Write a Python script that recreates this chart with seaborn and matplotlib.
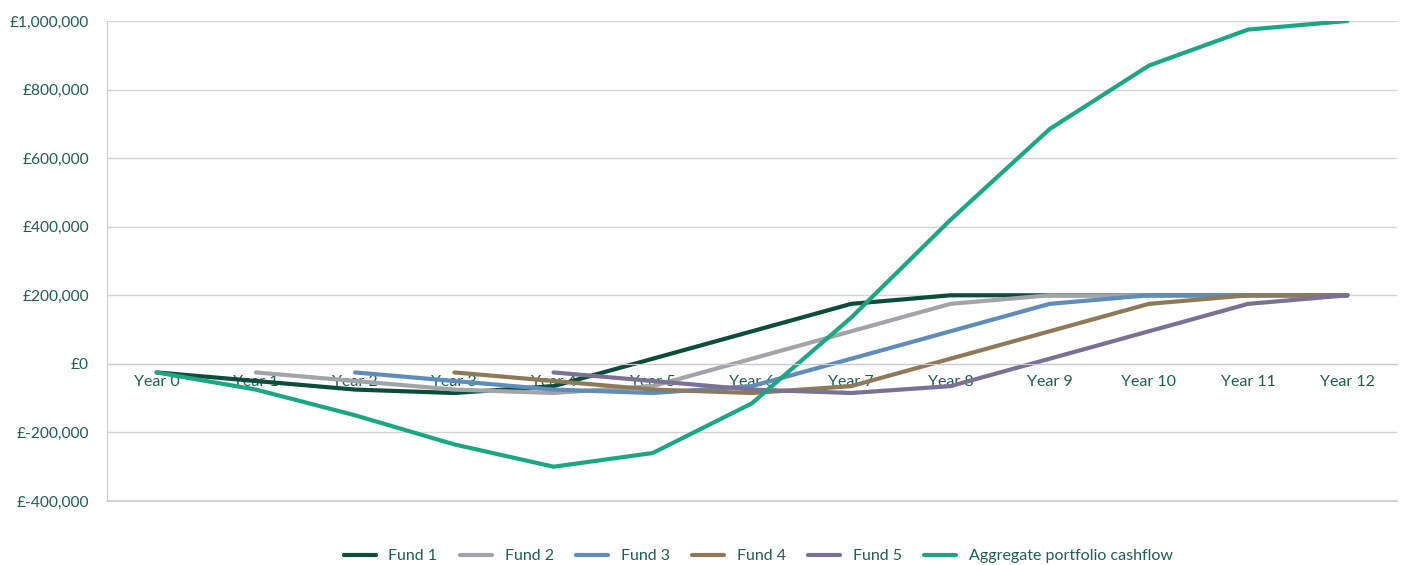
import numpy as np
import pandas as pd
import matplotlib
matplotlib.use("Agg")
import matplotlib.pyplot as plt
import seaborn as sns
from matplotlib.ticker import FuncFormatter

# -------- DATA --------
years = [f"Year {i}" for i in range(13)]
fund_1 = [-25000, -50000, -75000, -85000, -65000, 15000, 95000, 175000, 200000, 200000, 200000, 200000, 200000]
fund_2 = [None, -25000, -50000, -75000, -85000, -65000, 15000, 95000, 175000, 200000, 200000, 200000, 200000]
fund_3 = [None, None, -25000, -50000, -75000, -85000, -65000, 15000, 95000, 175000, 200000, 200000, 200000]
fund_4 = [None, None, None, -25000, -50000, -75000, -85000, -65000, 15000, 95000, 175000, 200000, 200000]
fund_5 = [None, None, None, None, -25000, -50000, -75000, -85000, -65000, 15000, 95000, 175000, 200000]
aggregate = [-25000, -75000, -150000, -235000, -300000, -260000, -115000, 135000, 420000, 685000, 870000, 975000, 1000000]

series = {
    "Fund 1": fund_1,
    "Fund 2": fund_2,
    "Fund 3": fund_3,
    "Fund 4": fund_4,
    "Fund 5": fund_5,
    "Aggregate portfolio cashflow": aggregate,
}
colors = ["#0a4d3b", "#a2a4a8", "#5d8db8", "#8e7a58", "#7b7195", "#1aa884"]
text_col = "#1f5f50"

rows = []
for name, vals in series.items():
    for i, v in enumerate(vals):
        if v is not None:
            rows.append({"pos": i, "value": v, "series": name})
df = pd.DataFrame(rows)

# -------- PLOT --------
sns.set_style("white")
plt.rcParams["font.family"] = ["Lato", "DejaVu Sans"]

fig = plt.figure(figsize=(14.03, 5.65), dpi=100)
ax = fig.add_axes([107 / 1403, 1 - 501 / 565, 1290 / 1403, 480 / 565])

sns.lineplot(data=df, x="pos", y="value", hue="series", palette=colors,
             linewidth=3, ax=ax, legend=True)

ax.set_xlim(-0.5, 12.5)
ax.set_ylim(-400000, 1000000)
ax.set_yticks(np.arange(-400000, 1000001, 200000))
ax.yaxis.set_major_formatter(FuncFormatter(lambda v, p: f"£{int(v):,}"))
ax.grid(axis="y", color="#d4d4d4", linewidth=1)
ax.axhline(-400000, color="#d4d4d4", linewidth=1.5, clip_on=False, zorder=0)
ax.set_axisbelow(True)
for s in ["top", "right"]:
    ax.spines[s].set_visible(False)
ax.spines["left"].set_color("#cccccc")
ax.spines["bottom"].set_color("#cccccc")
ax.spines["bottom"].set_position(("data", 0))
ax.tick_params(axis="y", length=0, labelsize=11.2, labelcolor=text_col, pad=13)
ax.set_xticks(range(13))
ax.set_xticklabels(years)
ax.tick_params(axis="x", direction="in", length=12, color="#cccccc",
               labelsize=11.5, labelcolor=text_col, pad=8)
ax.set_xlabel("")
ax.set_ylabel("")

handles, labels = ax.get_legend_handles_labels()
ax.legend(handles, labels, loc="upper center", bbox_to_anchor=(0.505, -0.07),
          ncol=6, frameon=False, fontsize=11.5, labelcolor=text_col,
          handlelength=2.0, columnspacing=1.4, handletextpad=0.8)

fig.savefig("out.png", dpi=100)
